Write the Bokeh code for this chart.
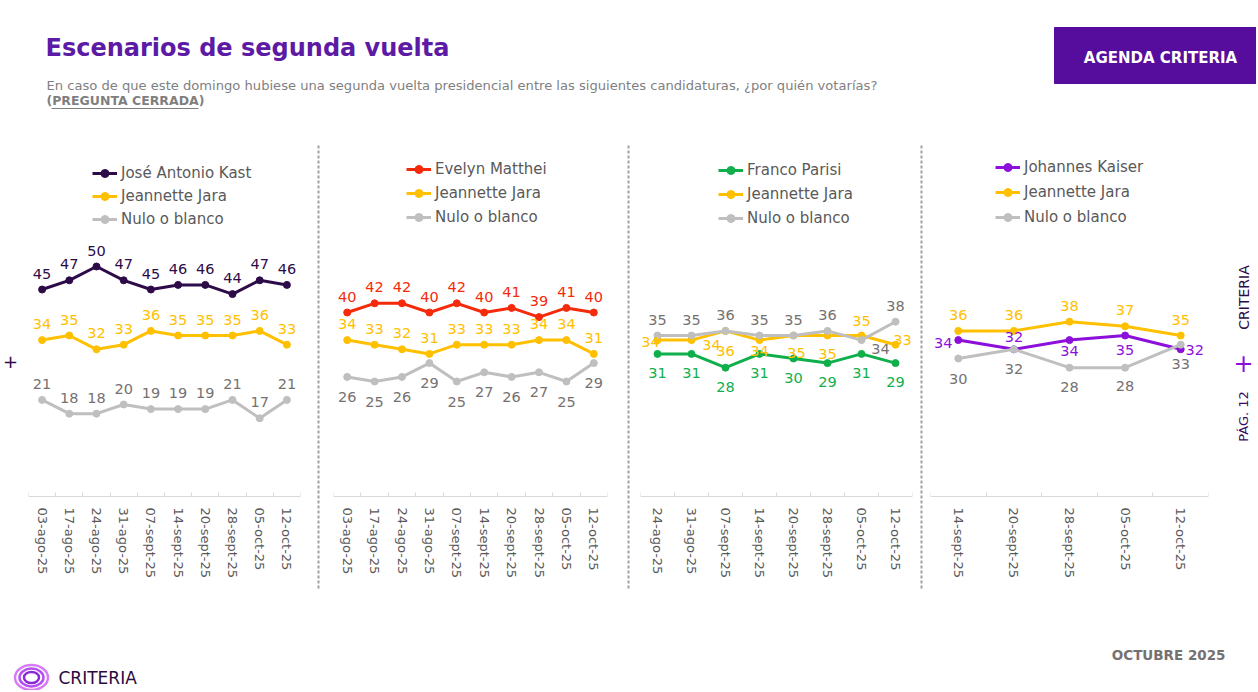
from math import pi
from bokeh.plotting import figure
from bokeh.models import Range1d, FixedTicker, Legend, LegendItem, ColumnDataSource
from bokeh.layouts import row, column
from bokeh.embed import file_html
from bokeh.resources import INLINE
from bokeh.core.properties import value

FONT = "DejaVu Sans"

# ---------------- data ----------------
dates_10 = ["03-ago-25", "17-ago-25", "24-ago-25", "31-ago-25", "07-sept-25",
            "14-sept-25", "20-sept-25", "28-sept-25", "05-oct-25", "12-oct-25"]
dates_8 = ["24-ago-25", "31-ago-25", "07-sept-25", "14-sept-25", "20-sept-25",
           "28-sept-25", "05-oct-25", "12-oct-25"]
dates_5 = ["14-sept-25", "20-sept-25", "28-sept-25", "05-oct-25", "12-oct-25"]

kast = [45, 47, 50, 47, 45, 46, 46, 44, 47, 46]
jara_1 = [34, 35, 32, 33, 36, 35, 35, 35, 36, 33]
nulo_1 = [21, 18, 18, 20, 19, 19, 19, 21, 17, 21]

matthei = [40, 42, 42, 40, 42, 40, 41, 39, 41, 40]
jara_2 = [34, 33, 32, 31, 33, 33, 33, 34, 34, 31]
nulo_2 = [26, 25, 26, 29, 25, 27, 26, 27, 25, 29]

parisi = [31, 31, 28, 31, 30, 29, 31, 29]
jara_3 = [34, 34, 36, 34, 35, 35, 35, 33]
nulo_3 = [35, 35, 36, 35, 35, 36, 34, 38]

kaiser = [34, 32, 34, 35, 32]
jara_4 = [36, 36, 38, 37, 35]
nulo_4 = [30, 32, 28, 28, 33]

# ---------------- styles ----------------
C_KAST = "#2d0b48"
C_JARA = "#ffc000"
C_NULO = "#bfbfbf"
C_NULO_T = "#767171"
C_MATTHEI = "#f52a0a"
C_PARISI = "#0faf4c"
C_KAISER = "#8c0fdc"
C_TEXT = "#595959"

ROW_H = 470
PX_PER_UNIT = 4.6
Y_TOP = 80
Y_BOT = Y_TOP - ROW_H / PX_PER_UNIT


def base(width, height, xr, yr, **kw):
    p = figure(width=width, height=height, x_range=xr, y_range=yr,
               output_backend="svg", toolbar_location=None, **kw)
    p.outline_line_color = None
    p.grid.visible = False
    p.background_fill_color = "white"
    p.border_fill_color = "white"
    return p


def blank(width, height):
    return base(width, height, Range1d(0, width), Range1d(height, 0),
                x_axis_location=None, y_axis_location=None, min_border=0)


def panel(dates, series, width, bl, br, legend_loc, spacing):
    n = len(dates)
    p = base(width, ROW_H, Range1d(-0.5, n - 0.5), Range1d(Y_BOT, Y_TOP),
             y_axis_location=None, min_border_left=bl, min_border_right=br,
             min_border_top=0, min_border_bottom=0)
    ax = p.xaxis[0]
    ax.fixed_location = 0
    ax.ticker = FixedTicker(ticks=list(range(n)),
                            minor_ticks=[i - 0.5 for i in range(n + 1)])
    ax.major_label_overrides = {i: d for i, d in enumerate(dates)}
    ax.major_label_orientation = "vertical"
    ax.major_tick_line_color = None
    ax.minor_tick_in = 4
    ax.minor_tick_out = 0
    ax.minor_tick_line_color = "#d9d9d9"
    ax.axis_line_color = "#d9d9d9"
    ax.major_label_text_font = FONT
    ax.major_label_text_font_size = "13px"
    ax.major_label_text_color = C_TEXT
    ax.major_label_standoff = 5

    xs = list(range(n))
    items = []
    srcs = []
    for name, vals, col, tcol, dx, dy in series:
        src = ColumnDataSource(dict(x=xs, y=vals, t=[str(v) for v in vals],
                                    dx=dx, dy=dy))
        l = p.line("x", "y", source=src, line_color=col, line_width=3)
        s = p.scatter("x", "y", source=src, size=7, color=col)
        items.append(LegendItem(label=name, renderers=[l, s]))
        srcs.append((src, tcol))
    for src, tcol in srcs:
        p.text("x", "y", text="t", source=src, x_offset="dx", y_offset="dy",
               text_align="center", text_baseline="middle",
               text_font=value(FONT), text_font_size="14.5px", text_color=tcol)

    lg = Legend(items=items, location=legend_loc, glyph_width=25, glyph_height=20,
                label_height=20, spacing=spacing, padding=0, margin=0,
                label_standoff=4, label_text_font=FONT,
                label_text_font_size="15px", label_text_color=C_TEXT,
                border_line_color=None, background_fill_alpha=0)
    p.add_layout(lg)
    return p


def sep(width):
    p = blank(width, ROW_H)
    c = width / 2
    p.segment(x0=[c], y0=[17], x1=[c], y1=[462], line_color="#a0a0a0",
              line_width=2, line_dash="3 2")
    return p


U, D = -16, 19
p1 = panel(dates_10, [
    ("José Antonio Kast", kast, C_KAST, C_KAST, [0] * 10, [U] * 10),
    ("Jeannette Jara", jara_1, C_JARA, C_JARA, [0] * 10, [U] * 10),
    ("Nulo o blanco", nulo_1, C_NULO, C_NULO_T, [0] * 10, [U] * 10),
], 293, 8, 13, (64, 369), 3)

p2 = panel(dates_10, [
    ("Evelyn Matthei", matthei, C_MATTHEI, C_MATTHEI, [0] * 10, [U] * 10),
    ("Jeannette Jara", jara_2, C_JARA, C_JARA, [0] * 10, [U] * 10),
    ("Nulo o blanco", nulo_2, C_NULO, C_NULO_T, [0] * 10, [20] * 10),
], 295, 10, 11, (73, 371), 4)

p3 = panel(dates_8, [
    ("Franco Parisi", parisi, C_PARISI, C_PARISI, [0] * 8, [D] * 8),
    ("Jeannette Jara", jara_3, C_JARA, C_JARA,
     [-7, 20, 0, 0, 3, 0, 0, 7], [2, 5, 20, 11, 17, 18, -15, -5]),
    ("Nulo o blanco", nulo_3, C_NULO, C_NULO_T,
     [0, 0, 0, 0, 0, 0, 19, 0], [U, U, U, U, U, U, 9, U]),
], 278, 2, 4, (78, 370), 4)

p4 = panel(dates_5, [
    ("Johannes Kaiser", kaiser, C_KAISER, C_KAISER,
     [-15, 0, 0, 0, 14], [3, -12, 11, 14, 1]),
    ("Jeannette Jara", jara_4, C_JARA, C_JARA, [0] * 5, [U] * 5),
    ("Nulo o blanco", nulo_4, C_NULO, C_NULO_T, [0] * 5, [20, 20, 19, 18, 19]),
], 292, 4, 10, (65, 371), 5)

# left and right margins
left = blank(20, ROW_H)
left.text(x=[10], y=[233], text=["+"], text_font=value(FONT), text_font_size="18px",
          text_color=C_KAST, text_align="center", text_baseline="middle")

right = blank(38, ROW_H)
right.text(x=[25], y=[169], text=["CRITERIA"], angle=pi / 2,
           text_font=value(FONT), text_font_size="14px", text_color=C_KAST,
           text_align="center", text_baseline="middle")
right.text(x=[25], y=[288], text=["PÁG. 12"], angle=pi / 2,
           text_font=value(FONT), text_font_size="13px", text_color="#3a0b63",
           text_align="center", text_baseline="middle")
right.text(x=[25], y=[234], text=["+"], text_font=value(FONT), text_font_size="24px",
           text_color=C_KAISER, text_align="center", text_baseline="middle")

# header
W = 1256
head = blank(W, 128)
head.quad(left=[1054], right=[W], top=[27], bottom=[83], color="#560d9d")
head.text(x=[1160], y=[57], text=["AGENDA CRITERIA"], text_font=value(FONT),
          text_font_style="bold", text_font_size="15px", text_color="white",
          text_align="center", text_baseline="middle")
head.text(x=[45], y=[47], text=["Escenarios de segunda vuelta"], text_font=value(FONT),
          text_font_style="bold", text_font_size="24px", text_color="#5c1aa5",
          text_baseline="middle")
head.text(x=[46], y=[85],
          text=["En caso de que este domingo hubiese una segunda vuelta presidencial entre las siguientes candidaturas, ¿por quién votarías?"],
          text_font=value(FONT), text_font_size="13.1px", text_color="#7f7f7f",
          text_baseline="middle")
head.text(x=[46], y=[100], text=["(PREGUNTA CERRADA)"], text_font=value(FONT),
          text_font_style="bold", text_font_size="12.5px", text_color="#7f7f7f",
          text_baseline="middle")
head.segment(x0=[51], y0=[108], x1=[198], y1=[108], line_color="#7f7f7f", line_width=1)

# footer
foot = blank(W, 92)
foot.ellipse(x=[31, 31, 31], y=[79, 79, 79], width=[33, 24, 15], height=[25, 18, 11],
             fill_color=None, line_color=["#d77cf5", "#b84ff0", "#8a2ad6"],
             line_width=[2.5, 2.5, 2.5])
foot.text(x=[58], y=[79], text=["CRITERIA"], text_font=value(FONT),
          text_font_size="17px", text_color="#2b0a3d", text_baseline="middle")
foot.text(x=[1225], y=[56], text=["OCTUBRE 2025"], text_font=value(FONT),
          text_font_style="bold", text_font_size="13.5px", text_color="#767171",
          text_align="right", text_baseline="middle")

layout = column(head,
                row(left, p1, sep(10), p2, sep(20), p3, sep(10), p4, right, spacing=0),
                foot, spacing=0)

open("out.html", "w").write(file_html(layout, INLINE))
